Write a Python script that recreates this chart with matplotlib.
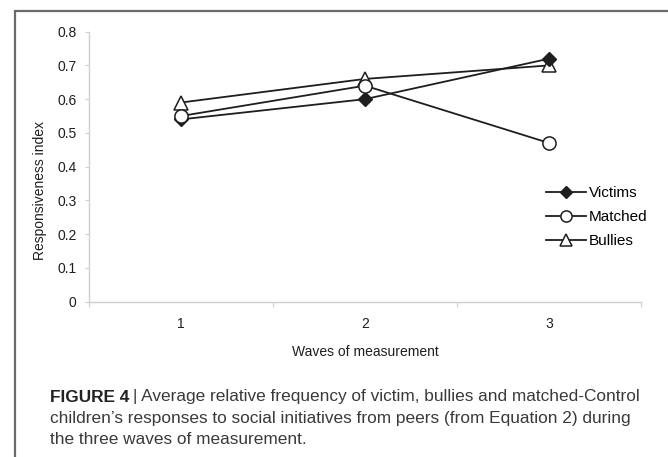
"""Responsiveness index across three waves, with figure caption."""
import matplotlib
matplotlib.use("Agg")
import matplotlib.pyplot as plt
from matplotlib.patches import Rectangle

waves = [1, 2, 3]
victims = [0.54, 0.60, 0.72]
matched = [0.55, 0.64, 0.47]
bullies = [0.59, 0.66, 0.70]
y_ticks = [0, 0.1, 0.2, 0.3, 0.4, 0.5, 0.6, 0.7, 0.8]

plt.rcParams["font.family"] = ["Liberation Sans", "DejaVu Sans"]

W, H = 668, 457
fig = plt.figure(figsize=(W / 100, H / 100), dpi=100)
ax = fig.add_axes([89 / W, 1 - 301.5 / H, 552 / W, 269.8 / H])

ink = "#1e1e1e"
grey = "#cfcfcf"
line_kw = dict(color=ink, linewidth=1.3)
ax.plot(waves, victims, marker="D", markersize=7.5, markerfacecolor=ink,
        markeredgecolor=ink, label="Victims", zorder=4, **line_kw)
ax.plot(waves, matched, marker="o", markersize=9.5, markerfacecolor="white",
        markeredgecolor=ink, markeredgewidth=1.1, label="Matched", zorder=5, **line_kw)
ax.plot(waves, bullies, marker="^", markersize=10, markerfacecolor="white",
        markeredgecolor=ink, markeredgewidth=1.1, label="Bullies", zorder=3, **line_kw)

ax.set_xlim(0.5, 3.5)
ax.set_ylim(0, 0.8)
ax.set_yticks(y_ticks, ["0" if v == 0 else f"{v:.1f}" for v in y_ticks])
ax.set_xticks([0.5, 1.5, 2.5, 3.5])
ax.set_xticklabels([])
ax.set_xticks(waves, minor=True)
ax.set_xticklabels([str(w) for w in waves], minor=True)
ax.tick_params(axis="x", which="major", length=3.5, color=grey, direction="out")
ax.tick_params(axis="x", which="minor", length=0, pad=11, labelsize=10, labelcolor=ink)
ax.tick_params(axis="y", length=3, color=grey, direction="out", labelsize=10,
               labelcolor=ink, pad=6)
for side in ("top", "right"):
    ax.spines[side].set_visible(False)
for side in ("left", "bottom"):
    ax.spines[side].set_color(grey)
    ax.spines[side].set_linewidth(1.0)

ax.set_xlabel("Waves of measurement", fontsize=10, color=ink, labelpad=10)
ax.set_ylabel("Responsiveness index", fontsize=10, color=ink, va="center")
ax.yaxis.set_label_coords(-49 / 552, (301.5 - 191) / 269.8)

ax.legend(loc="center left", bbox_to_anchor=(546 / W, 1 - 217 / H),
          bbox_transform=fig.transFigure, frameon=False, fontsize=11,
          handlelength=2.6, handletextpad=0.2, labelspacing=0.65,
          borderpad=0, borderaxespad=0, markerscale=0.85)

# outer frame (open on right and bottom, cropped by the picture edge)
fig.patches.append(Rectangle((15 / W, -0.05), 1.1, 1 - 11 / H + 0.05,
                             transform=fig.transFigure, fill=False,
                             edgecolor="#6a6a6a", linewidth=1.6))

cap_x = 50 / W
cap_size = 12.4
head = fig.text(cap_x, 1 - 397 / H, "FIGURE 4", fontsize=cap_size, fontweight="bold",
                color="#222222", va="center")
fig.canvas.draw()
head_right = head.get_window_extent().x1 / W
fig.text(head_right + 4 / W, 1 - 397 / H,
         "| Average relative frequency of victim, bullies and matched-Control",
         fontsize=cap_size, color="#3a3a3a", va="center")
fig.text(cap_x, 1 - 418.5 / H,
         "children\u2019s responses to social initiatives from peers (from Equation 2) during",
         fontsize=cap_size, color="#3a3a3a", va="center")
fig.text(cap_x, 1 - 440 / H, "the three waves of measurement.",
         fontsize=cap_size, color="#3a3a3a", va="center")

fig.savefig("out.png", dpi=100)
